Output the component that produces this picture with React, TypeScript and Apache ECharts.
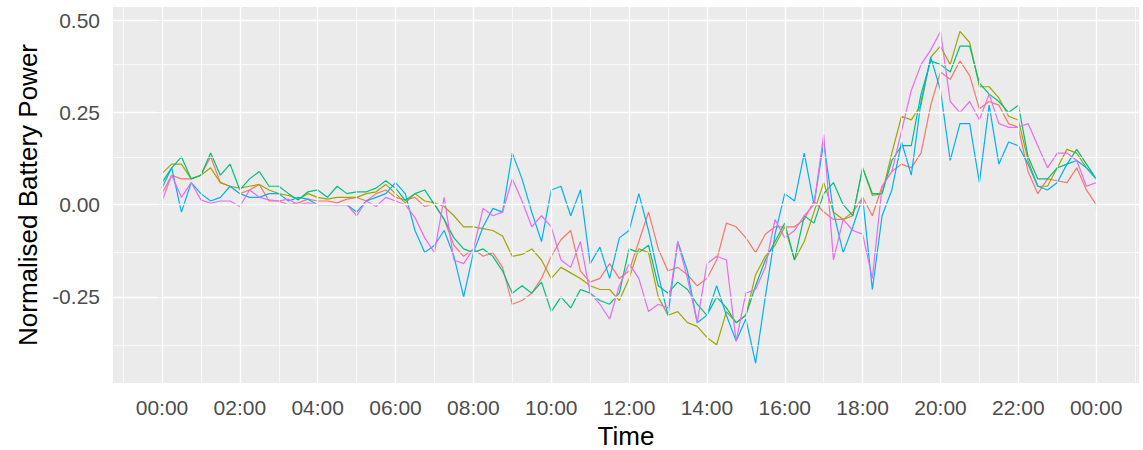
import React, { useEffect, useRef } from "react";
import * as echarts from "echarts";

// 15-minute steps from 00:00 to 24:00 (minutes)
const STEP_MIN = 15;

const red = [0.03, 0.08, 0.07, 0.07, 0.08, 0.13, 0.06, 0.05, 0.03, 0.04, 0.055, 0.01,
  0.01, 0.0, 0.005, 0.015, 0.01, 0.01, 0.005, 0.015, 0.02, 0.01, 0.03, 0.04, 0.02,
  0.013, 0.02, -0.005, 0.003, -0.04, -0.11, -0.14, -0.12, -0.14, -0.13, -0.17, -0.27,
  -0.26, -0.24, -0.2, -0.14, -0.095, -0.07, -0.18, -0.21, -0.2, -0.16, -0.2, -0.18,
  -0.1, -0.02, -0.12, -0.18, -0.17, -0.19, -0.22, -0.2, -0.15, -0.05, -0.06, -0.09, -0.13,
  -0.08, -0.06, -0.06, -0.06, -0.04, 0.01, -0.02, -0.04, -0.04, -0.02, 0.02, -0.03,
  0.05, 0.09, 0.11, 0.1, 0.14, 0.27, 0.36, 0.34, 0.39, 0.35, 0.26, 0.28, 0.27,
  0.22, 0.21, 0.09, 0.03, 0.07, 0.065, 0.06, 0.1, 0.04, 0.0];

const olive = [0.085, 0.11, 0.11, 0.07, 0.08, 0.1, 0.06, 0.05, 0.045, 0.05, 0.055, 0.04,
  0.03, 0.025, 0.015, 0.03, 0.02, 0.015, 0.02, 0.02, 0.02, 0.03, 0.035, 0.055, 0.03,
  0.005, 0.03, 0.01, 0.005, -0.005, -0.03, -0.06, -0.06, -0.065, -0.07, -0.085, -0.14,
  -0.135, -0.12, -0.15, -0.2, -0.17, -0.185, -0.2, -0.22, -0.23, -0.23, -0.26, -0.2,
  -0.12, -0.13, -0.25, -0.3, -0.29, -0.32, -0.33, -0.36, -0.38, -0.29, -0.32, -0.3, -0.19,
  -0.14, -0.11, -0.06, -0.15, -0.1, -0.02, 0.06, -0.02, -0.04, -0.03, 0.1, 0.025,
  0.03, 0.14, 0.24, 0.23, 0.27, 0.4, 0.43, 0.38, 0.47, 0.44, 0.32, 0.32, 0.29,
  0.24, 0.23, 0.12, 0.05, 0.05, 0.1, 0.15, 0.14, 0.1, 0.07];

const green = [0.06, 0.1, 0.13, 0.07, 0.08, 0.14, 0.08, 0.11, 0.04, 0.07, 0.09, 0.05,
  0.05, 0.03, 0.013, 0.035, 0.04, 0.02, 0.05, 0.03, 0.035, 0.035, 0.045, 0.065, 0.045,
  0.012, 0.03, 0.04, 0.0, -0.04, -0.09, -0.12, -0.13, -0.12, -0.14, -0.18, -0.24,
  -0.22, -0.24, -0.21, -0.29, -0.25, -0.28, -0.23, -0.24, -0.26, -0.27, -0.24, -0.12,
  -0.13, -0.11, -0.22, -0.24, -0.21, -0.23, -0.27, -0.3, -0.25, -0.28, -0.32, -0.3, -0.22,
  -0.15, -0.1, -0.05, -0.15, -0.03, -0.05, 0.03, 0.06, 0.0, -0.03, 0.1, 0.03,
  0.03, 0.12, 0.16, 0.16, 0.3, 0.39, 0.38, 0.36, 0.43, 0.43, 0.33, 0.3, 0.28,
  0.25, 0.27, 0.13, 0.07, 0.07, 0.1, 0.11, 0.15, 0.11, 0.07];

const blue = [0.045, 0.1, -0.02, 0.06, 0.03, 0.01, 0.02, 0.05, 0.03, 0.02, 0.02, 0.03,
  0.03, 0.01, 0.02, 0.015, 0.0, 0.0, 0.0, 0.0, -0.02, 0.01, 0.02, 0.03, 0.06,
  0.03, -0.07, -0.13, -0.11, -0.07, -0.14, -0.25, -0.13, -0.06, -0.01, -0.02, 0.14,
  0.07, -0.02, -0.1, 0.04, 0.05, -0.03, 0.04, -0.16, -0.115, -0.2, -0.09, -0.07,
  0.03, -0.07, -0.19, -0.3, -0.1, -0.18, -0.32, -0.3, -0.22, -0.3, -0.37, -0.31, -0.43,
  -0.25, -0.08, 0.03, 0.01, 0.14, 0.0, 0.17, -0.02, -0.13, -0.06, 0.02, -0.23,
  -0.03, 0.04, 0.17, 0.08, 0.28, 0.4, 0.31, 0.12, 0.22, 0.22, 0.06, 0.27, 0.11,
  0.17, 0.16, 0.11, 0.05, 0.04, 0.06, 0.11, 0.12, 0.1, 0.07];

const pink = [0.01, 0.08, 0.02, 0.06, 0.013, 0.004, 0.01, 0.01, -0.005, 0.04, 0.02, 0.013,
  0.01, 0.015, 0.0, 0.005, 0.0, 0.0, 0.0, 0.0, -0.03, 0.01, -0.005, 0.02, 0.01,
  0.0, -0.035, -0.09, -0.13, 0.02, -0.15, -0.16, -0.12, -0.01, -0.03, -0.02, 0.07,
  0.01, -0.06, -0.03, -0.06, -0.15, -0.17, -0.1, -0.24, -0.27, -0.31, -0.22, -0.16,
  -0.2, -0.29, -0.27, -0.28, -0.1, -0.2, -0.32, -0.16, -0.14, -0.15, -0.37, -0.24, -0.23,
  -0.17, -0.04, -0.09, -0.07, -0.03, 0.0, 0.19, -0.15, -0.04, -0.07, -0.08, -0.2,
  0.05, 0.09, 0.2, 0.31, 0.38, 0.42, 0.47, 0.28, 0.25, 0.28, 0.23, 0.3, 0.22,
  0.21, 0.21, 0.22, 0.16, 0.1, 0.14, 0.14, 0.12, 0.05, 0.06];

const seriesList = [
  { name: "A", values: red, color: "#F8766D" },
  { name: "B", values: olive, color: "#A3A500" },
  { name: "C", values: green, color: "#00BF7D" },
  { name: "D", values: blue, color: "#00B0F6" },
  { name: "E", values: pink, color: "#E76BF3" },
];

const xMajorTicks = [0, 120, 240, 360, 480, 600, 720, 840, 960, 1080, 1200, 1320, 1440];
const xMinorTicks = [-60, 60, 180, 300, 420, 540, 660, 780, 900, 1020, 1140, 1260, 1380, 1500];
const yMajorTicks = [-0.25, 0, 0.25, 0.5];
const yMinorTicks = [-0.375, -0.125, 0.125, 0.375];

const X_MIN = -75.5;
const X_MAX = 1506;
const Y_MIN = -0.4837;
const Y_MAX = 0.5363;

const FONT = "'Liberation Sans', Arial, sans-serif";

function fmtTime(v: number): string {
  const h = Math.floor(v / 60) % 24;
  const m = Math.round(v % 60);
  return String(h).padStart(2, "0") + ":" + String(m).padStart(2, "0");
}

export default function App() {
  const ref = useRef<HTMLDivElement>(null);
  useEffect(() => {
    if (!ref.current) return;
    const chart = echarts.init(ref.current, undefined, { renderer: "svg" });
    const gridLines: any[] = [];
    xMinorTicks.forEach((v) => gridLines.push({ xAxis: v, lineStyle: { width: 0.7, color: "#FFFFFF", type: "solid" } }));
    yMinorTicks.forEach((v) => gridLines.push({ yAxis: v, lineStyle: { width: 0.7, color: "#FFFFFF", type: "solid" } }));
    xMajorTicks.forEach((v) => gridLines.push({ xAxis: v, lineStyle: { width: 1.4, color: "#FFFFFF", type: "solid" } }));
    yMajorTicks.forEach((v) => gridLines.push({ yAxis: v, lineStyle: { width: 1.4, color: "#FFFFFF", type: "solid" } }));

    const option: any = {
      animation: false,
      backgroundColor: "#FFFFFF",
      grid: {
        left: 113,
        right: 4,
        top: 7,
        bottom: 67,
        show: true,
        backgroundColor: "#EBEBEB",
        borderWidth: 0,
        containLabel: false,
        outerBoundsMode: "none",
      },
      xAxis: {
        type: "value",
        min: X_MIN,
        max: X_MAX,
        name: "Time",
        nameLocation: "middle",
        nameGap: 40,
        nameTextStyle: { fontSize: 26, lineHeight: 26, color: "#000000", fontFamily: FONT },
        axisLine: { show: false },
        splitLine: { show: false },
        axisTick: {
          show: true,
          customValues: xMajorTicks,
          length: 5,
          lineStyle: { color: "#333333", width: 1.1 },
        },
        axisLabel: {
          show: true,
          customValues: xMajorTicks,
          formatter: (v: number) => fmtTime(v),
          fontSize: 21,
          color: "#4D4D4D",
          fontFamily: FONT,
          margin: 14,
        },
      },
      yAxis: {
        type: "value",
        min: Y_MIN,
        max: Y_MAX,
        name: "Normalised Battery Power",
        nameLocation: "middle",
        nameRotate: 90,
        nameGap: 70,
        nameTextStyle: { fontSize: 26, color: "#000000", fontFamily: FONT },
        axisLine: { show: false },
        splitLine: { show: false },
        axisTick: {
          show: true,
          customValues: yMajorTicks,
          length: 5,
          lineStyle: { color: "#333333", width: 1.1 },
        },
        axisLabel: {
          show: true,
          customValues: yMajorTicks,
          formatter: (v: number) => v.toFixed(2),
          fontSize: 21,
          color: "#4D4D4D",
          fontFamily: FONT,
          margin: 13,
        },
      },
      series: [
        {
          type: "line",
          name: "grid",
          data: [],
          z: 1,
          silent: true,
          markLine: {
            silent: true,
            symbol: ["none", "none"],
            label: { show: false },
            animation: false,
            data: gridLines,
          },
        },
        ...seriesList.map((s) => ({
          type: "line",
          name: s.name,
          z: 3,
          showSymbol: false,
          symbol: "none",
          clip: true,
          color: s.color,
          lineStyle: { width: 1.2, color: s.color },
          data: s.values.map((v, i) => [i * STEP_MIN, v]),
        })),
      ],
    };
    chart.setOption(option);
    return () => chart.dispose();
  }, []);
  return (
    <div
      ref={ref}
      style={{ position: "fixed", left: 0, top: 0, width: 1143, height: 450 }}
    />
  );
}
